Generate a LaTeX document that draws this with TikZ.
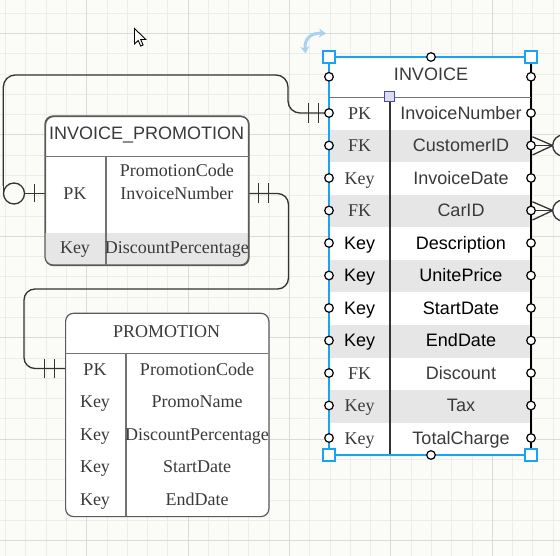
\documentclass[tikz,border=0pt]{standalone}
\usepackage{fontspec}
\setmainfont{Liberation Serif}
\newfontfamily\sansf{Liberation Sans}
\usetikzlibrary{arrows.meta,calc}
\definecolor{bg}{HTML}{FBFBF7}
\definecolor{gminor}{HTML}{ECECE9}
\definecolor{gmajor}{HTML}{DADAD8}
\definecolor{rowshade}{HTML}{E6E6E6}
\definecolor{txt}{HTML}{3A3A3A}
\definecolor{sel}{HTML}{1AA3F2}
\definecolor{edge}{HTML}{5A5A5A}
\definecolor{conncol}{HTML}{333333}
\definecolor{rot}{HTML}{A6D2F4}
\definecolor{purp}{HTML}{4B4B9B}
\definecolor{purpfill}{HTML}{DCDCF0}
\tikzset{
  tsans/.style={font=\sansf\fontsize{18}{21}\selectfont, text=txt, inner sep=0pt, anchor=base},
  tserif/.style={font=\fontsize{18}{21}\selectfont, text=txt, inner sep=0pt, anchor=base},
  tbl/.style={draw=edge, line width=1.2pt},
  sepline/.style={draw=edge!85, line width=1.2pt},
  conn/.style={draw=conncol, line width=1.3pt},
  bar/.style={draw=conncol, line width=1.3pt},
  cpt/.style={draw=black, fill=white, line width=1.2pt},
  handle/.style={draw=sel, fill=white, line width=1.5pt},
}
\begin{document}
\begin{tikzpicture}[x=1pt,y=-1pt]
\useasboundingbox (0,0) rectangle (560,556);
\fill[bg] (0,0) rectangle (560,556);
% grid
\foreach \i in {0,...,27} \draw[gminor, line width=1pt] ({5.6+20.28*\i},0) -- ({5.6+20.28*\i},556);
\foreach \i in {0,...,26} \draw[gminor, line width=1pt] (0,{13.3+20.28*\i}) -- (560,{13.3+20.28*\i});
\foreach \i in {0,...,4} \draw[gmajor, line width=1pt] ({86.7+101.4*\i},0) -- ({86.7+101.4*\i},556);
\foreach \i in {0,...,5} \draw[gmajor, line width=1pt] (0,{33.6+101.4*\i}) -- (560,{33.6+101.4*\i});

% named anchor points
\coordinate (invPK) at (329,113);
\coordinate (invCust) at (531,145.5);
\coordinate (invCar) at (531,210.5);
\coordinate (ipL) at (45,193.5);
\coordinate (ipR) at (248.5,193.5);
\coordinate (promPK) at (65,368.5);
\coordinate (offR1) at (560,145.5);
\coordinate (offR2) at (560,210.5);

% ---------- connectors ----------
\draw[conn, rounded corners=12] (invPK) -- (288,113) -- (288,75) -- (3.3,75) -- (3.3,186);
\draw[conn] (3.3,186) -- (3.3,193.5);
\draw[conn] (24.5,193.5) -- (ipL);
\draw[conn, fill=bg] (14,193.5) circle (10.5);
\draw[bar] (34.3,184.5) -- (34.3,202.5);
\draw[bar] (308.3,103) -- (308.3,123);
\draw[bar] (318.3,103) -- (318.3,123);

\draw[conn, rounded corners=11] (ipR) -- (288.5,193.5) -- (288.5,289) -- (24,289) -- (24,368.5) -- (promPK);
\draw[bar] (258.3,183.5) -- (258.3,203.5);
\draw[bar] (268.3,183.5) -- (268.3,203.5);
\draw[bar] (44.3,359) -- (44.3,378);
\draw[bar] (54.3,359) -- (54.3,378);

% crow's feet on INVOICE right
\foreach \c/\o in {invCust/offR1, invCar/offR2}{
  \draw[conn] (\c) -- (\o);
  \draw[conn] ($(\c)+(1.5,-8.7)$) -- ($(\c)+(21.7,0)$) -- ($(\c)+(1.5,9.5)$);
  \draw[conn, fill=white] ($(\c)+(32.2,0)$) circle (10.5);
}

% ---------- INVOICE_PROMOTION ----------
\node[tbl, fill=white, rounded corners=8, minimum width=203.5pt, minimum height=149pt, inner sep=0pt, anchor=north west] (ip) at (45,116) {};
\begin{scope}
  \clip[rounded corners=8] (45,116) rectangle (248.5,265);
  \fill[rowshade] (45,233) rectangle (248.5,265);
\end{scope}
\draw[tbl, rounded corners=8] (45,116) rectangle (248.5,265);
\draw[sepline] (45,156.7) -- (248.5,156.7);
\draw[sepline] (106,156.7) -- (106,265);
\node[tsans] (ipT) at (146.7,140) {INVOICE\_PROMOTION};
\node[tserif] (ipk1) at (75,200) {PK};
\node[tserif] (ipf1a) at (176.8,176.7) {PromotionCode};
\node[tserif] (ipf1b) at (176.8,199.3) {InvoiceNumber};
\node[tserif] (ipk2) at (75,253.3) {Key};
\node[tserif] (ipf2) at (176.8,253.3) {DiscountPercentage};

% ---------- PROMOTION ----------
\node[tbl, fill=white, rounded corners=8, minimum width=203.3pt, minimum height=203.3pt, inner sep=0pt, anchor=north west] (prom) at (65,312.7) {};
\draw[sepline] (65,353.3) -- (268.3,353.3);
\draw[sepline] (126,353.3) -- (126,516);
\node[tserif] (promT) at (166.7,337.3) {PROMOTION};
\foreach \k/\key/\fld in {0/PK/PromotionCode, 1/Key/PromoName, 2/Key/DiscountPercentage, 3/Key/StartDate, 4/Key/EndDate}{
  \node[tserif] (pk\k) at (95,{375+32.5*\k}) {\key};
  \node[tserif] (pf\k) at (197,{375+32.5*\k}) {\fld};
}

% ---------- INVOICE ----------
\node[fill=white, minimum width=202pt, minimum height=398pt, inner sep=0pt, anchor=north west] (inv) at (329,57) {};
\foreach \k in {1,3,5,7,9} \fill[rowshade] (329,{97.5+32.5*\k}) rectangle (531,{130+32.5*\k});
\draw[draw=black, line width=1.3pt] (329,57) rectangle (531,455);
\draw[sepline] (329,97.8) -- (531,97.8);
\draw[sepline, draw=conncol] (390,97.8) -- (390,455);
\node[tsans] (invT) at (431,81) {INVOICE};
\foreach \k/\key/\fld/\kst/\col in {0/PK/InvoiceNumber/tserif/txt, 1/FK/CustomerID/tserif/txt, 2/Key/InvoiceDate/tserif/txt, 3/FK/CarID/tserif/txt, 4/Key/Description/tsans/black, 5/Key/UnitePrice/tsans/black, 6/Key/StartDate/tsans/black, 7/Key/EndDate/tsans/black, 8/FK/Discount/tserif/txt, 9/Key/Tax/tserif/txt, 10/Key/TotalCharge/tserif/txt}{
  \node[\kst, text=\col] (ik\k) at (359.7,{119.3+32.5*\k}) {\key};
  \node[tsans, text=\col] (if\k) at (461,{119.3+32.5*\k}) {\fld};
}

% ---------- selection overlay ----------
\draw[sel, line width=2pt] (531,57) -- (329,57) -- (329,455) -- (531,455);
\foreach \yy in {76.8,113,145.5,178,210.5,243,275.5,308,340.5,373,405.5,438}{
  \draw[cpt] (329,\yy) circle (4.3);
  \draw[cpt] (531,\yy) circle (4.3);
}
\draw[cpt] (431,57) circle (4.3);
\draw[cpt] (431,455) circle (4.3);
\foreach \hx/\hy in {329/57, 531/57, 329/455, 531/455}
  \draw[handle] ({\hx-6},{\hy-6}) rectangle ({\hx+6},{\hy+6});
\draw[draw=purp, fill=purpfill, line width=1pt] (384.2,92) rectangle (394.2,102);
\draw[rot, line width=3pt, {Stealth[length=7pt,width=9pt]}-{Stealth[length=7pt,width=9pt]}] (305.5,53.5) .. controls (304,39) and (311,32.5) .. (326,33.5);

% cursor
\draw[black, fill=white, line width=0.9pt, shift={(134.5,28.5)}]
  (0,0) -- (0,15.5) -- (3.7,12) -- (6.2,17.5) -- (8.6,16.5) -- (6.2,11) -- (11.3,11) -- cycle;
\end{tikzpicture}
\end{document}
